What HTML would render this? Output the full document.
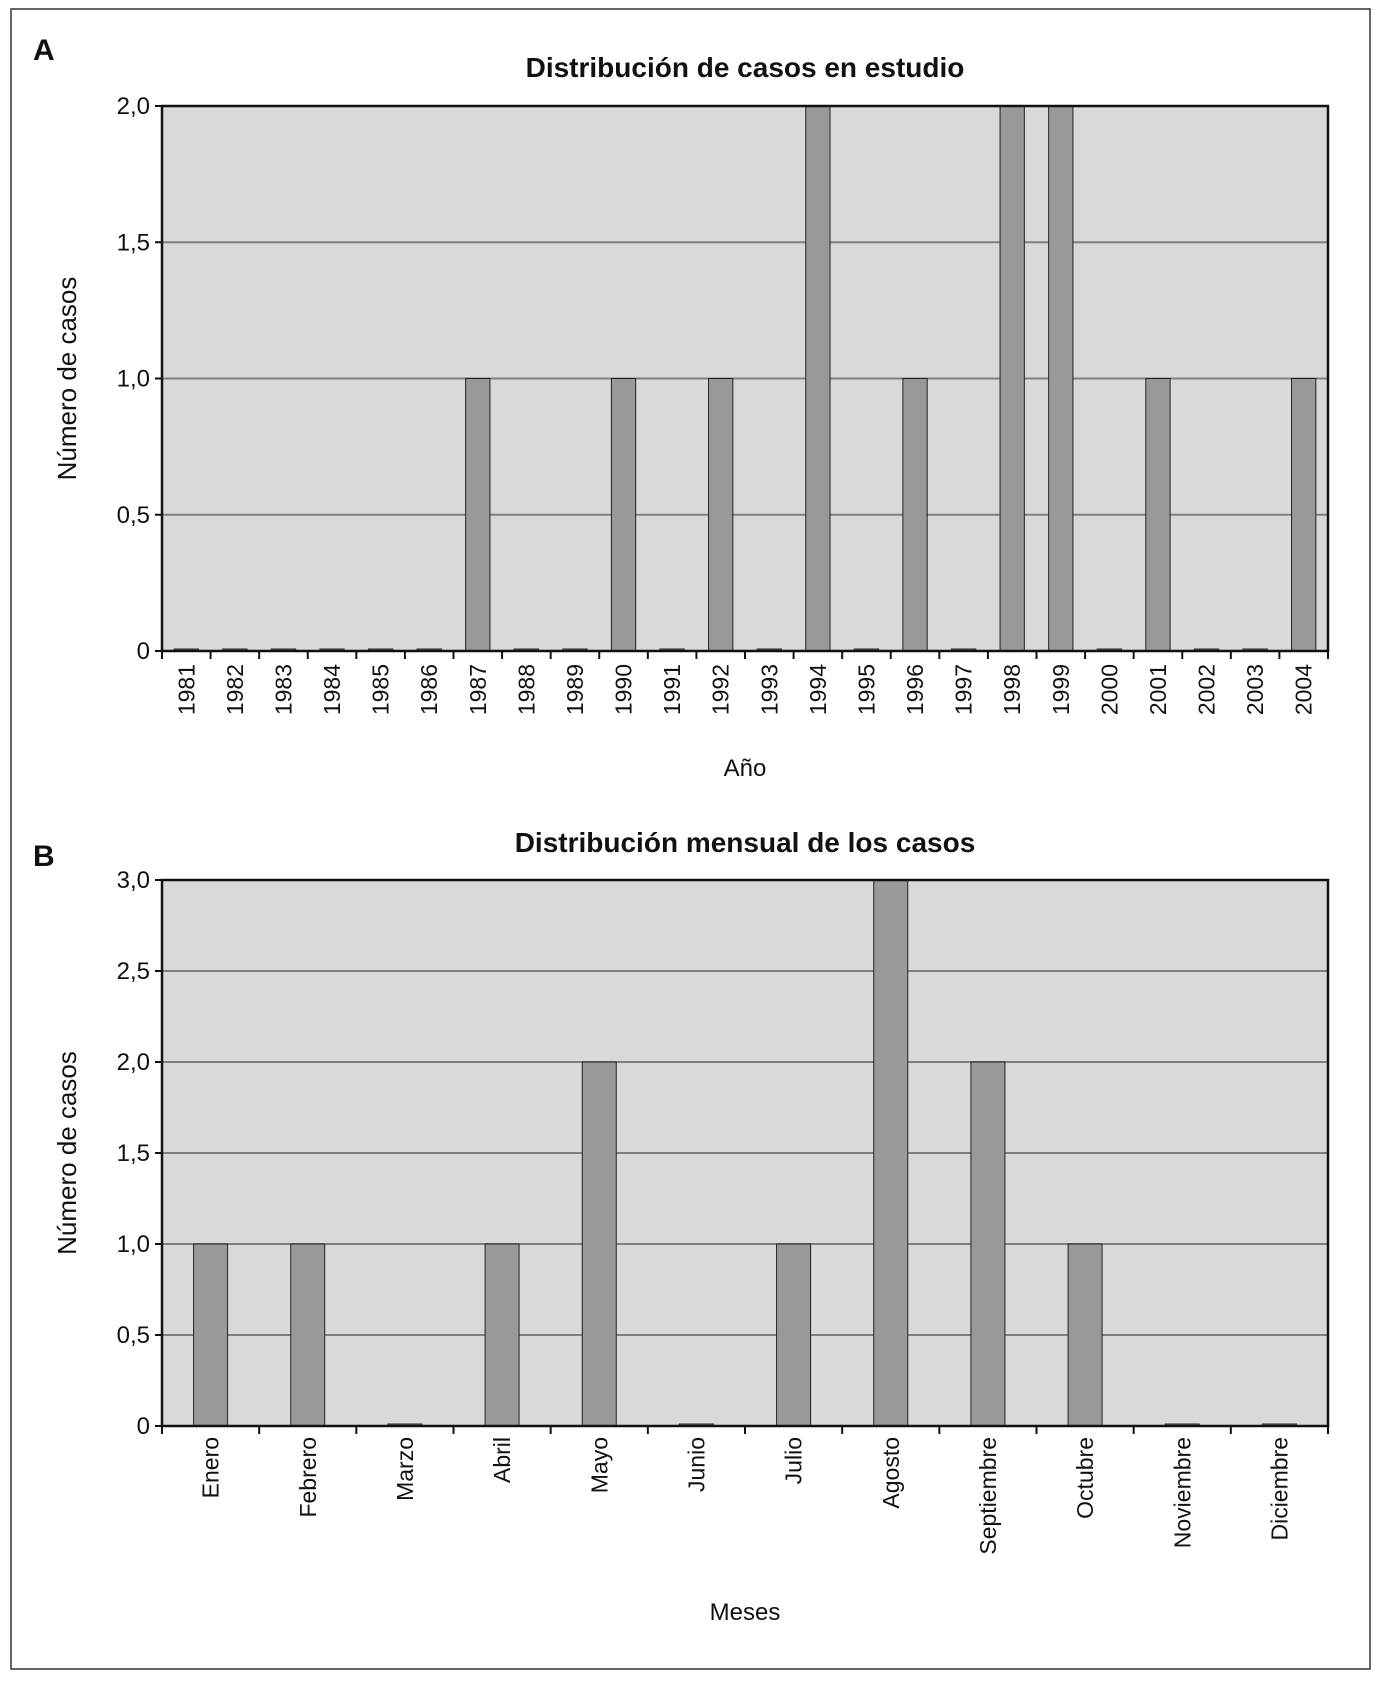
<!DOCTYPE html>
<html><head><meta charset="utf-8"><style>
body{margin:0;background:#fff;font-family:"Liberation Sans",sans-serif}
svg text{font-family:"Liberation Sans",sans-serif;fill:#111}
</style></head><body>
<svg id="s" width="1383" height="1680" xmlns="http://www.w3.org/2000/svg">
<rect x="11" y="9" width="1359" height="1660" fill="none" stroke="#333" stroke-width="1.5"/>
<text x="33" y="60" font-size="30" font-weight="bold">A</text>
<text x="33" y="866" font-size="30" font-weight="bold">B</text>
</svg>
<script>
const yearCats=["1981","1982","1983","1984","1985","1986","1987","1988","1989","1990","1991","1992","1993","1994","1995","1996","1997","1998","1999","2000","2001","2002","2003","2004"];
const yearVals=[0,0,0,0,0,0,1,0,0,1,0,1,0,2,0,1,0,2,2,0,1,0,0,1];
const yearTicks=["0","0,5","1,0","1,5","2,0"];
const monthCats=["Enero","Febrero","Marzo","Abril","Mayo","Junio","Julio","Agosto","Septiembre","Octubre","Noviembre","Diciembre"];
const monthVals=[1,1,0,1,2,0,1,3,2,1,0,0];
const monthTicks=["0","0,5","1,0","1,5","2,0","2,5","3,0"];
const NS="http://www.w3.org/2000/svg";
const svg=document.getElementById('s');
function mk(t,a,txt){const e=document.createElementNS(NS,t);for(const k in a)e.setAttribute(k,a[k]);if(txt!==undefined)e.textContent=txt;svg.appendChild(e);return e;}
function chart(o){
 const {x0,x1,y0,y1,cats,vals,ticks,max,bw,title,titleY,xTitle,xTitleY,labY,p}=o;
 const ys=v=>y1-(v/max)*(y1-y0);
 const cw=(x1-x0)/cats.length;
 const xs=i=>x0+cw*(i+0.5);
 let e=mk('rect',{x:x0,y:y0,width:x1-x0,height:y1-y0,fill:'#d9d9d9'});
 
 
 ticks.forEach((t,i)=>{const v=max*i/(ticks.length-1);const y=ys(v);
  if(i>0){e=mk('line',{x1:x0,x2:x1,y1:y,y2:y,stroke:'#808080','stroke-width':2});
   
   }
  e=mk('line',{x1:x0-7,x2:x0,y1:y,y2:y,stroke:'#111','stroke-width':2});
  
  
  e=mk('text',{x:x0-12,y:y+8,'font-size':24,'text-anchor':'end'},t);
  
  
 });
 vals.forEach((v,i)=>{const w=cw*bw;const h=Math.max(y1-ys(v),2);
  e=mk('rect',{x:xs(i)-w/2,y:y1-h,width:w,height:h,fill:'#999',stroke:'#222','stroke-width':1});
  
  
 });
 e=mk('rect',{x:x0,y:y0,width:x1-x0,height:y1-y0,fill:'none',stroke:'#111','stroke-width':2.5});
 
 
 for(let i=0;i<=cats.length;i++){const x=x0+cw*i;
  e=mk('line',{x1:x,x2:x,y1:y1,y2:y1+8,stroke:'#111','stroke-width':2});
  
  }
 cats.forEach((c,i)=>{
  e=mk('text',{x:0,y:0,'font-size':23,'text-anchor':'end',transform:`translate(${xs(i)+8},${labY}) rotate(-90)`},c);
  
  });
 e=mk('text',{x:(x0+x1)/2,y:titleY,'font-size':28,'font-weight':'bold','text-anchor':'middle'},title);
 
 
 e=mk('text',{x:(x0+x1)/2,y:xTitleY,'font-size':24,'text-anchor':'middle'},xTitle);
 
 
 e=mk('text',{x:0,y:0,'font-size':26,'text-anchor':'middle',transform:`translate(76,${(y0+y1)/2}) rotate(-90)`},'Número de casos');
 
 
}
chart({x0:162,x1:1328,y0:106,y1:651,cats:yearCats,vals:yearVals,ticks:yearTicks,max:2,bw:0.5,title:'Distribución de casos en estudio',titleY:77,xTitle:'Año',xTitleY:776,labY:664,p:'chart-a'});
chart({x0:162,x1:1328,y0:880,y1:1426,cats:monthCats,vals:monthVals,ticks:monthTicks,max:3,bw:0.35,title:'Distribución mensual de los casos',titleY:852,xTitle:'Meses',xTitleY:1620,labY:1437,p:'chart-b'});
</script>
</body></html>
